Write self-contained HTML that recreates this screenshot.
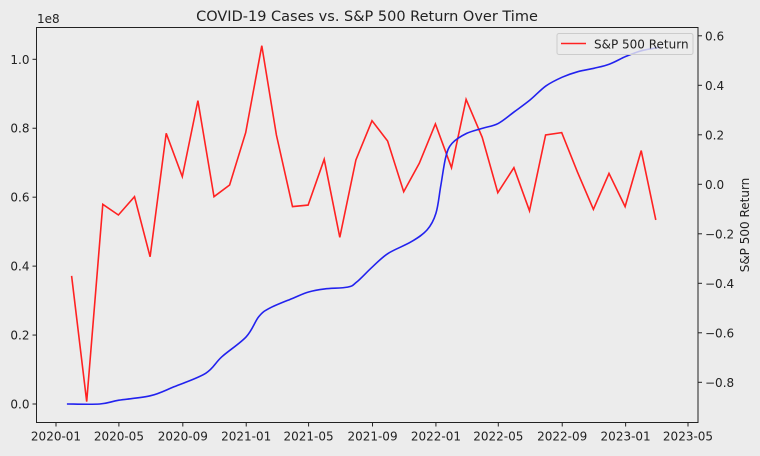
<!DOCTYPE html>
<html><head><meta charset="utf-8"><style>
body{margin:0;background:#ececec;}
svg text{font-family:"DejaVu Sans","Liberation Sans",sans-serif;fill:#222;}
</style></head><body>
<svg id="chart" width="760" height="451" xmlns="http://www.w3.org/2000/svg">
<rect x="0" y="0" width="760" height="451" fill="#ececec"/>
<g id="plot"></g>
</svg>
<script>
const spDates = ["2020-01-31","2020-02-29","2020-03-31","2020-04-30","2020-05-31","2020-06-30","2020-07-31","2020-08-31","2020-09-30","2020-10-31","2020-11-30","2020-12-31","2021-01-31","2021-02-28","2021-03-31","2021-04-30","2021-05-31","2021-06-30","2021-07-31","2021-08-31","2021-09-30","2021-10-31","2021-11-30","2021-12-31","2022-01-31","2022-02-28","2022-03-31","2022-04-30","2022-05-31","2022-06-30","2022-07-31","2022-08-31","2022-09-30","2022-10-31","2022-11-30","2022-12-31","2023-01-31","2023-02-28"];
const spReturns = [-0.37,-0.878,-0.081,-0.124,-0.05,-0.293,0.206,0.031,0.338,-0.05,-0.003,0.209,0.56,0.199,-0.09,-0.084,0.101,-0.214,0.098,0.257,0.175,-0.03,0.085,0.244,0.067,0.343,0.19,-0.034,0.067,-0.107,0.199,0.209,0.051,-0.101,0.044,-0.09,0.136,-0.144];
const caseDates = ["2020-01-22","2020-03-25","2020-05-01","2020-07-01","2020-08-15","2020-10-15","2020-11-15","2021-01-01","2021-01-25","2021-02-15","2021-04-01","2021-05-01","2021-06-01","2021-07-15","2021-08-01","2021-09-01","2021-10-01","2021-11-15","2021-12-15","2022-01-01","2022-01-10","2022-01-20","2022-02-01","2022-03-01","2022-04-01","2022-05-01","2022-06-01","2022-07-01","2022-08-01","2022-09-01","2022-10-01","2022-11-01","2022-12-01","2023-01-01","2023-02-01","2023-03-09"];
const caseValues = [0,0.0,0.011,0.024,0.05,0.089,0.137,0.195,0.253,0.278,0.307,0.325,0.334,0.339,0.353,0.398,0.437,0.471,0.505,0.553,0.63,0.717,0.756,0.785,0.80,0.814,0.848,0.882,0.923,0.948,0.964,0.974,0.986,1.008,1.025,1.035];
const xTickLabels = ["2020-01","2020-05","2020-09","2021-01","2021-05","2021-09","2022-01","2022-05","2022-09","2023-01","2023-05"];
const leftTicks = [0.0,0.2,0.4,0.6,0.8,1.0];
const rightTicks = [-0.8,-0.6,-0.4,-0.2,0.0,0.2,0.4,0.6];

const L=36.5,R=698,T=27.5,B=422.5;
const d0=Date.UTC(2020,0,1), d1=Date.UTC(2023,4,1);
function xS(s){const p=s.split('-');const t=Date.UTC(+p[0],+p[1]-1,p[2]?+p[2]:1);return 56+(t-d0)/(d1-d0)*632;}
function yL(v){return 404-v*344.7;}
function yR(v){return 184.3-v*247.5;}
const NS="http://www.w3.org/2000/svg";
const g=document.getElementById('plot');
function mk(tag,attrs,parent){const e=document.createElementNS(NS,tag);for(const k in attrs)e.setAttribute(k,attrs[k]);(parent||g).appendChild(e);return e;}

let d=spDates.map((s,i)=>(i?'L':'M')+xS(s).toFixed(1)+','+yR(spReturns[i]).toFixed(1)).join(' ');
const red=mk('path',{d:d,fill:'none',stroke:'#f22',"stroke-width":1.6});



const pts=caseDates.map((s,i)=>[xS(s),yL(caseValues[i])]);
let bd='M'+pts[0][0]+','+pts[0][1];
for(let i=0;i<pts.length-1;i++){const p0=pts[Math.max(0,i-1)],p1=pts[i],p2=pts[i+1],p3=pts[Math.min(pts.length-1,i+2)];
const c1=[p1[0]+(p2[0]-p0[0])/6,p1[1]+(p2[1]-p0[1])/6],c2=[p2[0]-(p3[0]-p1[0])/6,p2[1]-(p3[1]-p1[1])/6];
bd+=' C'+c1[0].toFixed(1)+','+c1[1].toFixed(1)+' '+c2[0].toFixed(1)+','+c2[1].toFixed(1)+' '+p2[0].toFixed(1)+','+p2[1].toFixed(1);}
const blue=mk('path',{d:bd,fill:'none',stroke:'#22e',"stroke-width":1.6});



const fr=mk('rect',{x:L,y:T,width:R-L,height:B-T,fill:'none',stroke:'#222',"stroke-width":1});



xTickLabels.forEach(s=>{const x=xS(s);
const t=mk('line',{x1:x,x2:x,y1:B,y2:B+4,stroke:'#222'});


const l=mk('text',{x:x,y:B+18,"text-anchor":"middle","font-size":12});l.textContent=s;

});
leftTicks.forEach(v=>{const y=yL(v);
const t=mk('line',{x1:L-4,x2:L,y1:y,y2:y,stroke:'#222'});


const l=mk('text',{x:L-7,y:y+4.5,"text-anchor":"end","font-size":12});l.textContent=v.toFixed(1);

});
rightTicks.forEach(v=>{const y=yR(v);
const t=mk('line',{x1:R,x2:R+4,y1:y,y2:y,stroke:'#222'});


const l=mk('text',{x:R+7,y:y+4.5,"font-size":12});l.textContent=(v<0?'\u2212':'')+Math.abs(v).toFixed(1);

});

const off=mk('text',{x:37,y:23,"font-size":12});off.textContent='1e8';


const ttl=mk('text',{x:367,y:21,"text-anchor":"middle","font-size":14.5});ttl.textContent='COVID-19 Cases vs. S&P 500 Return Over Time';


const yt=mk('text',{x:749,y:225,"text-anchor":"middle","font-size":12,transform:'rotate(-90 749 225)'});yt.textContent='S&P 500 Return';



const lg=mk('g',{});


mk('rect',{x:557,y:33.5,width:136,height:21,rx:2,fill:'#ececec',"fill-opacity":0.8,stroke:'#ccc'},lg);
mk('line',{x1:561,x2:586,y1:43.5,y2:43.5,stroke:'#f22',"stroke-width":1.6},lg);
const lt=mk('text',{x:594,y:48.5,"font-size":12},lg);lt.textContent='S&P 500 Return';


</script>
</body></html>
